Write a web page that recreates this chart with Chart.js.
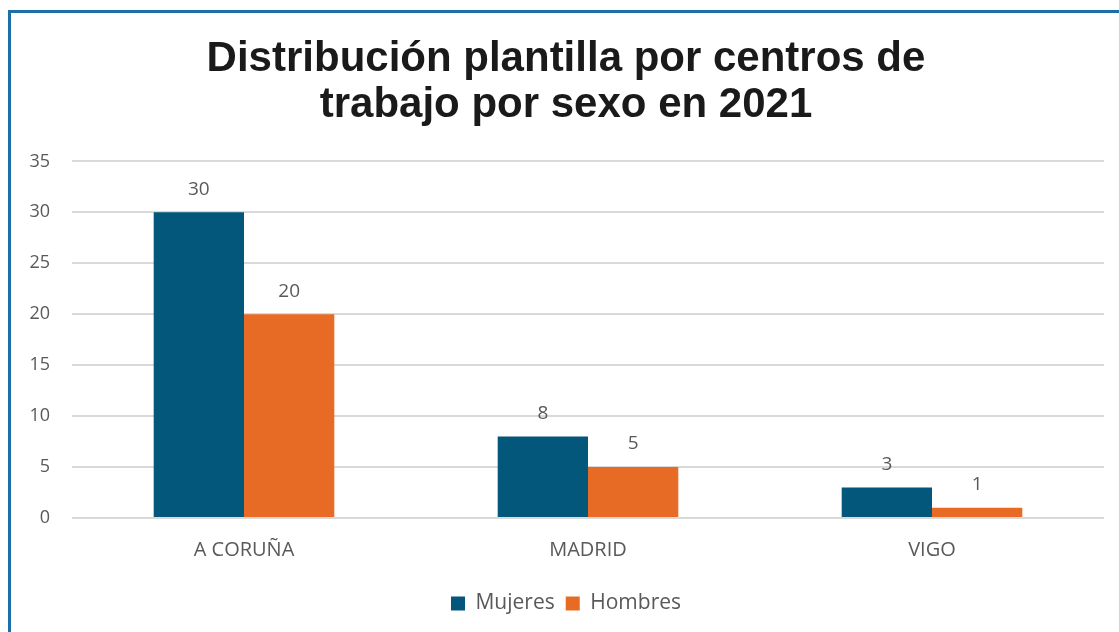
<!DOCTYPE html>
<html>
<head>
<meta charset="utf-8">
<script src="https://cdn.jsdelivr.net/npm/chart.js@4.4.0/dist/chart.umd.min.js"></script>
<style>
  html, body { margin: 0; padding: 0; background: #fff; overflow: hidden; }
  #frame { position: absolute; left: 8px; top: 10px; width: 1200px; height: 700px;
           border-top: 3px solid #1d6fa8; border-left: 3px solid #1d6fa8; }
  #wrap { position: absolute; left: 0; top: 0; width: 1119px; height: 632px; }
</style>
</head>
<body>
<div id="frame"></div>
<div id="wrap"><canvas id="myChart"></canvas></div>
<script>
var centros = ["A CORUÑA", "MADRID", "VIGO"];
var mujeres = [30, 8, 3];
var hombres = [20, 5, 1];
var yTicks = [0, 5, 10, 15, 20, 25, 30, 35];

var colorMujeres = "#02577b";
var colorHombres = "#e86b25";
var grisTexto = "#595959";

// etiquetas de valor encima de cada barra
var valueLabels = {
  id: "valueLabels",
  afterDatasetsDraw: function (chart) {
    var ctx = chart.ctx;
    ctx.save();
    ctx.font = "19px 'Open Sans'";
    ctx.fillStyle = grisTexto;
    ctx.textAlign = "center";
    ctx.textBaseline = "middle";
    chart.data.datasets.forEach(function (ds, i) {
      chart.getDatasetMeta(i).data.forEach(function (bar, j) {
        ctx.fillText(ds.data[j], bar.x, bar.y - 23);
      });
    });
    ctx.restore();
  }
};

new Chart("myChart", {
  type: "bar",
  data: {
    labels: centros,
    datasets: [
      { label: "Mujeres", data: mujeres, backgroundColor: colorMujeres },
      { label: "Hombres", data: hombres, backgroundColor: colorHombres }
    ]
  },
  options: {
    responsive: true,
    maintainAspectRatio: false,
    animation: false,
    layout: { padding: { left: 28, right: 15, top: 0, bottom: 8 } },
    datasets: { bar: { categoryPercentage: 0.525, barPercentage: 1.0 } },
    scales: {
      x: {
        grid: { display: false, drawTicks: false },
        border: { display: false },
        ticks: { color: grisTexto, font: { family: "Open Sans", size: 20 }, padding: 20 }
      },
      y: {
        min: 0,
        max: 35,
        afterBuildTicks: function (axis) {
          axis.ticks = yTicks.map(function (v) { return { value: v }; });
        },
        afterFit: function (axis) { axis.width = 44; },
        grid: { color: "#d9d9d9", lineWidth: 2, drawTicks: false },
        border: { display: false },
        ticks: { color: grisTexto, font: { family: "Open Sans", size: 18 }, padding: 22 }
      }
    },
    plugins: {
      title: {
        display: true,
        text: ["Distribución plantilla por centros de", "trabajo por sexo en 2021"],
        color: "#1a1a1a",
        font: { family: "Liberation Sans", size: 42, weight: "bold", lineHeight: 1.1 },
        padding: { top: 36, bottom: 33 }
      },
      legend: {
        position: "bottom",
        labels: {
          color: grisTexto,
          font: { family: "Open Sans", size: 21 },
          boxWidth: 14,
          boxHeight: 14,
          padding: 11
        }
      },
      tooltip: { enabled: false }
    }
  },
  plugins: [valueLabels]
});
</script>
</body>
</html>
